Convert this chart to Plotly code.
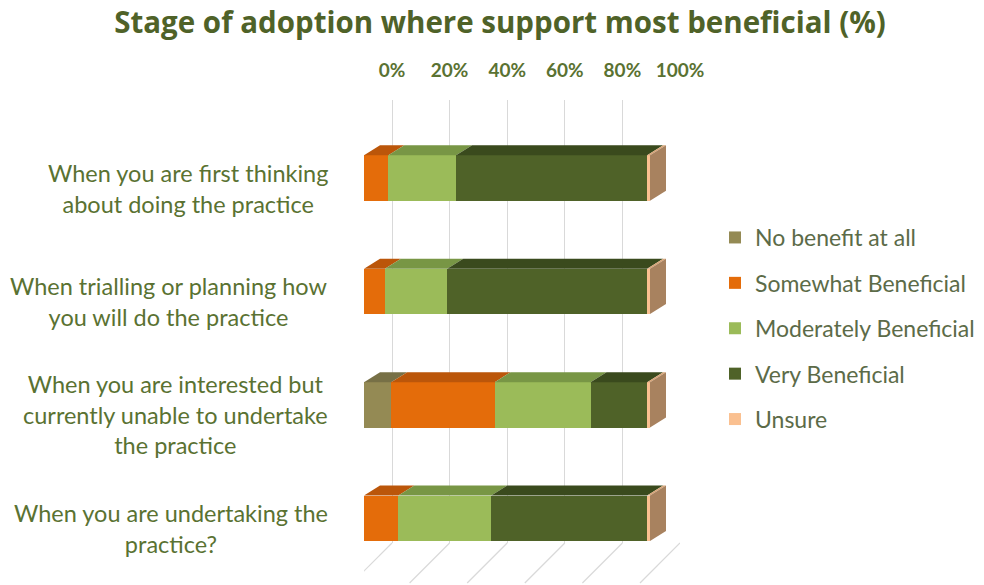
import plotly.graph_objects as go

categories = [
    "When you are first thinking<br>about doing the practice",
    "When trialling or planning how<br>you will do the practice",
    "When you are interested but<br>currently unable to undertake<br>the practice",
    "When you are undertaking the<br>practice?",
]
series_names = ["No benefit at all", "Somewhat Beneficial", "Moderately Beneficial",
                "Very Beneficial", "Unsure"]
no_benefit = [0, 0, 9.5, 0]
somewhat = [8.5, 7.3, 36.2, 12.0]
moderately = [23.7, 21.8, 33.5, 32.5]
very = [66.8, 69.9, 19.8, 54.5]
unsure = [1.0, 1.0, 1.0, 1.0]
tick_vals = [0, 20, 40, 60, 80, 100]

values = [no_benefit, somewhat, moderately, very, unsure]
colors = ["#948A54", "#E46C0A", "#9BBB59", "#4F6228", "#FAC090"]
top_colors = ["#777046", "#BB560A", "#789645", "#3A4A1D", "#D9A476"]
side_color = "#A8825F"

W, H = 984, 585


def px(p):
    return p / W


front0, front100 = 364, 650
back0, back100 = 392, 680
plot_top, plot_bot = 100, 543
cat_first, cat_last = 178, 518.3
bar_w = 0.4
dx_px, dy_px = 16, 10

fscale = (front100 - front0) / 100.0
bscale = (back100 - back0) / 100.0
x_dom = [px(front0), px(back100)]
x_range = [0, (back100 - front0) / fscale]
x2_range = [-(back0 - front0) / bscale, 100]
cat_step = (cat_last - cat_first) / 3
y_range = [(plot_bot - cat_first) / cat_step, (plot_top - cat_first) / cat_step]
y_dom = [1 - plot_bot / H, 1 - plot_top / H]
dx = dx_px / fscale
dy = dy_px / cat_step

fig = go.Figure()
ypos = list(range(len(categories)))

# front faces
for i, name in enumerate(series_names):
    fig.add_trace(go.Bar(
        y=ypos, x=values[i], orientation="h", name=name,
        marker=dict(color=colors[i], line=dict(width=0)),
        width=bar_w, legendgroup=name, hoverinfo="x+name",
    ))

# top faces
for i, name in enumerate(series_names):
    xs, ys = [], []
    for j in range(len(categories)):
        start = sum(values[k][j] for k in range(i))
        end = start + values[i][j]
        if values[i][j] <= 0:
            continue
        yt = ypos[j] - bar_w / 2
        xs += [start, end, end + dx, start + dx, start, None]
        ys += [yt, yt, yt - dy, yt - dy, yt, None]
    fig.add_trace(go.Scatter(x=xs, y=ys, mode="lines", fill="toself",
                             fillcolor=top_colors[i], line=dict(width=0),
                             showlegend=False, hoverinfo="skip"))

# right side faces
xs, ys = [], []
for j in range(len(categories)):
    total = sum(values[k][j] for k in range(len(values)))
    yt = ypos[j] - bar_w / 2
    yb = ypos[j] + bar_w / 2
    xs += [total, total, total + dx, total + dx, total, None]
    ys += [yb, yt, yt - dy, yb - dy, yb, None]
fig.add_trace(go.Scatter(x=xs, y=ys, mode="lines", fill="toself",
                         fillcolor=side_color, line=dict(width=0),
                         showlegend=False, hoverinfo="skip"))

# invisible trace to show top axis
fig.add_trace(go.Scatter(x=[0, 100], y=[0, 0], xaxis="x2", mode="markers",
                         marker=dict(opacity=0), showlegend=False, hoverinfo="skip"))

# floor gridlines
floor_dx = 40 / bscale
for t in tick_vals:
    fig.add_shape(type="line", xref="x2", yref="paper",
                  x0=t, y0=1 - plot_bot / H, x1=t - floor_dx, y1=1 - (plot_bot + 40) / H,
                  line=dict(color="#D9D9D9", width=1.2), layer="below")

label_color = "#5A7232"
for j, c in enumerate(categories):
    fig.add_annotation(text=c, xref="paper", yref="y", x=px(330), y=ypos[j],
                       xanchor="right", yanchor="middle", align="center", showarrow=False,
                       yshift=-10,
                       font=dict(family="Lato", size=23.5, color=label_color))

fig.update_layout(
    width=W, height=H, autosize=False,
    margin=dict(l=0, r=0, t=0, b=0, autoexpand=False),
    paper_bgcolor="white", plot_bgcolor="white",
    barmode="stack",
    title=dict(text="<b>Stage of adoption where support most beneficial (%)</b>",
               x=500 / W, xanchor="center", y=1 - 23 / H, yanchor="middle",
               font=dict(family="Open Sans", size=29.5, color="#4F6228")),
    xaxis=dict(domain=x_dom, range=x_range, showgrid=False, showticklabels=False,
               zeroline=False, showline=False),
    xaxis2=dict(overlaying="x", side="top", range=x2_range, tickvals=tick_vals,
                ticktext=[f"{v}%" for v in tick_vals], showgrid=True,
                gridcolor="#D9D9D9", gridwidth=1.2, zeroline=False, showline=False,
                ticks="outside", ticklen=14, tickcolor="rgba(0,0,0,0)",
                tickfont=dict(family="Lato", size=19, color="#5A7232", weight="bold")),
    yaxis=dict(domain=y_dom, range=y_range, showgrid=False, showticklabels=False,
               zeroline=False, showline=False),
    legend=dict(x=px(715), y=1 - 216 / H, xanchor="left", yanchor="top",
                traceorder="grouped", tracegroupgap=12.5,
                font=dict(family="Lato", size=23, color="#5C6B48"),
                bgcolor="rgba(0,0,0,0)"),
    showlegend=True,
)

fig.write_html(
    "out.html",
    config={"displayModeBar": False, "responsive": False},
    post_script=("document.body.style.margin='0';"
                 "document.body.style.overflow='hidden';"
                 "document.documentElement.style.overflow='hidden';"),
)
